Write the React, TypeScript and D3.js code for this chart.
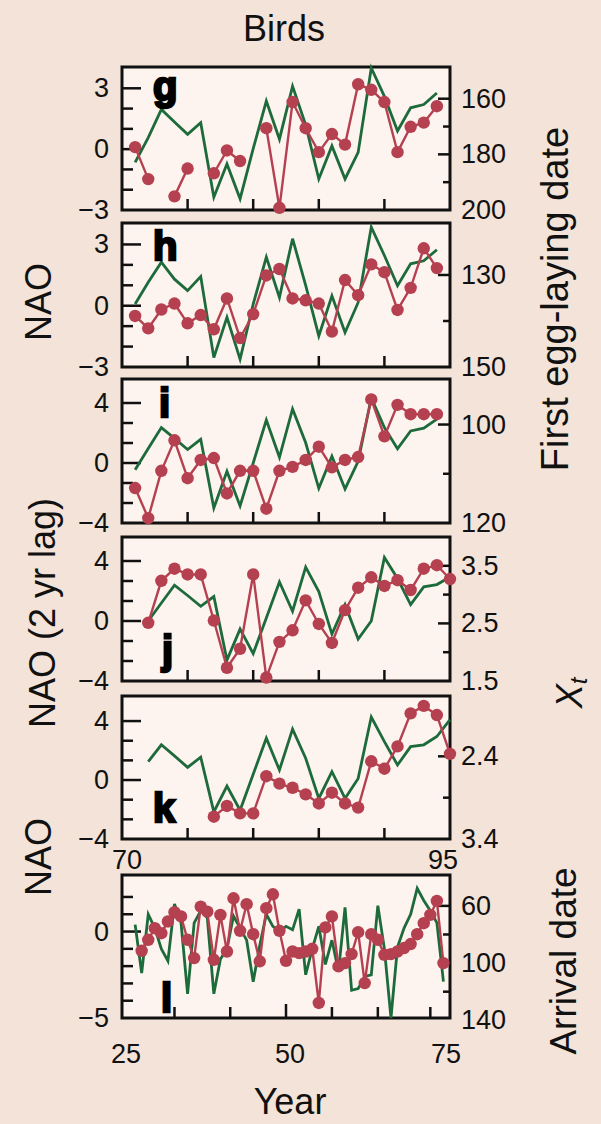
import React from "react";
import * as d3 from "d3";

const W = 601;
const H = 1124;
const X0 = 122;
const X1 = 450;
const FONT = "'Liberation Sans', Arial, Helvetica, sans-serif";
const BG = "#f3e3d8";
const PANEL_BG = "#fdf3ef";
const GREEN = "#1d6a3b";
const RED = "#b5404f";

// ---- data ----
// g: first egg-laying date vs winter NAO
const naoG = [-0.65, 0.57, 1.96, 1.34, 0.73, 1.3, -2.37, -0.73, -2.45, 0.03, 2.37, 0.49, 3.1, 1.2, -1.47, 0.16, -1.47, -0.16, 4.0, 2.6, 0.9, 2.04, 2.2, 2.77];
const eggG = [177.4, 188.9, null, 195.1, 185.1, null, 186.8, 178.6, 182.4, null, 170.6, 199.2, 161.2, 170.6, 179.2, 172.7, 176.5, 154.8, 156.8, 161.2, 179.2, 170.1, 168.6, 162.7];
// h
const naoH = [0.08, 1.15, 2.13, 1.3, 0.74, 1.43, -2.54, -0.57, -2.62, 0.08, 2.38, 0.41, 3.28, 1.0, -1.48, 0.49, -1.31, 0.16, 3.85, 2.46, 0.98, 2.05, 2.2, 2.74];
const eggH = [138.9, 141.6, 137.5, 136.2, 140.5, 138.7, 141.8, 135.1, 143.7, 138.5, 130.1, 128.7, 135.1, 135.5, 136.2, 142.3, 131.1, 134.4, 127.7, 129.4, 137.6, 132.8, 124.2, 128.5];
// i
const naoI = [-0.45, 0.97, 2.36, 1.64, 0.9, 1.58, -3.0, -0.56, -2.86, 0.0, 2.86, 0.38, 3.6, 1.35, -1.69, 0.45, -1.73, 0.11, 4.35, 2.36, 0.95, 2.14, 2.32, 2.93];
const eggI = [112.9, 119.0, 109.4, 103.2, 110.9, 107.2, 106.8, 114.0, 109.4, 109.4, 117.1, 109.4, 108.6, 107.2, 104.5, 108.7, 107.2, 106.6, 94.9, 102.4, 96.0, 97.9, 97.9, 97.9];
// j: X_t vs NAO (2 yr lag)
const naoJ = [0.0, 1.2, 2.39, 1.7, 0.98, 1.63, -2.6, -0.54, -2.17, 0.2, 2.6, 0.65, 3.59, 1.96, -0.87, 1.09, -1.2, 0.0, 4.24, 2.83, 1.09, 2.28, 2.43, 2.93];
const xtJ = [2.51, 3.24, 3.45, 3.35, 3.35, 2.55, 1.73, 2.06, 3.35, 1.56, 2.18, 2.38, 2.9, 2.49, 2.16, 2.73, 3.12, 3.3, 3.15, 3.25, 3.08, 3.45, 3.51, 3.27];
// k
const naoK = [1.25, 2.39, 1.64, 0.86, 1.55, -2.16, -0.41, -2.05, 0.39, 2.84, 0.68, 3.45, 1.48, -1.25, 0.57, -1.25, 0.11, 4.27, 2.6, 1.02, 2.27, 2.39, 2.95, 4.09];
const xtK = [3.13, 3.0, 3.09, 3.09, 2.64, 2.73, 2.78, 2.86, 2.97, 2.84, 2.97, 3.02, 2.46, 2.55, 2.28, 1.88, 1.79, 1.9, 2.37];
// l: arrival date vs NAO, 1927-1974
const naoL = [0.4, -2.4, 1.0, 0.2, -1.0, -1.7, 1.6, 0.5, -3.6, 0.5, 1.2, 0.8, -3.6, -1.6, -1.0, 0.9, 0.2, -0.5, -2.9, -0.8, 1.0, 0.3, 0.0, 0.3, 0.1, 1.3, -2.5, -1.0, 0.3, -1.9, -0.5, -2.3, 1.4, -3.4, -3.3, -2.6, -2.5, 1.5, -1.0, -5.0, -0.9, 0.2, 1.0, 2.5, 1.8, 1.2, 0.5, -2.9];
const arrL = [91.4, 83.7, 75.6, 79.1, 70.9, 64.4, 67.4, 83.7, 96.5, 60.5, 64.0, 97.7, 66.3, 91.9, 54.7, 77.4, 58.8, 79.8, 98.8, 61.6, 51.9, 77.4, 98.4, 91.9, 93.0, 91.9, 90.0, 127.9, 75.1, 67.4, 102.3, 100, 93.7, 78.4, 114.0, 79.8, 83.7, 94.2, 93.7, 91.9, 89.5, 86.7, 79.8, 72.1, 66.3, 56.5, 100];

const yearTicks = [75, 80, 85, 90];
const yearTicksL = [33, 41.5, 50, 57, 64, 72];

const xNao = d3.scaleLinear().domain([70, 95]).range([X0, X1]);
const xL = d3.scaleLinear().domain([25, 75]).range([X0, X1]);

const seq = (start, n) => d3.range(start, start + n);

const thirds = [-8 / 3, -4 / 3, 0, 4 / 3, 8 / 3, 4];

const panels = [
  {
    id: "g", top: 67, bottom: 210, x: xNao, xTicks: yearTicks,
    left: [-3, 4.05], lTicks: [-2, -1, 0, 1, 2, 3], lMajor: [0, 3], lLabels: [3, 0, -3],
    right: [200, 148.6], rTicks: [160, 170, 180, 190], rMajor: [160, 180], rLabels: [160, 180, 200],
    green: { yrs: seq(71, naoG.length), v: naoG },
    red: { yrs: seq(71, eggG.length), v: eggG },
    letter: "g", lx: 153, ly: 100,
  },
  {
    id: "h", top: 223, bottom: 367, x: xNao, xTicks: yearTicks,
    left: [-3, 4.05], lTicks: [-2, -1, 0, 1, 2, 3], lMajor: [0, 3], lLabels: [3, 0, -3],
    right: [150, 118.7], rTicks: [130, 140], rMajor: [130], rLabels: [130, 150],
    green: { yrs: seq(71, naoH.length), v: naoH },
    red: { yrs: seq(71, eggH.length), v: eggH },
    letter: "h", lx: 153, ly: 260,
  },
  {
    id: "i", top: 379, bottom: 523, x: xNao, xTicks: yearTicks,
    left: [-4, 5.6], lTicks: thirds, lMajor: [0, 4], lLabels: [4, 0, -4],
    right: [120, 90.75], rTicks: [100, 110], rMajor: [100], rLabels: [100, 120],
    green: { yrs: seq(71, naoI.length), v: naoI },
    red: { yrs: seq(71, eggI.length), v: eggI },
    letter: "i", lx: 159, ly: 417,
  },
  {
    id: "j", top: 537, bottom: 681, x: xNao, xTicks: yearTicks,
    left: [-4, 5.6], lTicks: thirds, lMajor: [0, 4], lLabels: [4, 0, -4],
    right: [1.5, 4.0], rTicks: [2.0, 2.5, 3.0, 3.5], rMajor: [2.5, 3.5], rLabels: [3.5, 2.5, 1.5],
    green: { yrs: seq(72, naoJ.length), v: naoJ },
    red: { yrs: seq(72, xtJ.length), v: xtJ },
    letter: "j", lx: 162, ly: 664,
  },
  {
    id: "k", top: 696, bottom: 839, x: xNao, xTicks: yearTicks,
    left: [-4, 5.7], lTicks: thirds, lMajor: [0, 4], lLabels: [4, 0, -4],
    right: [3.4, 1.67], rTicks: [2.4, 2.9], rMajor: [2.4], rLabels: [2.4, 3.4],
    green: { yrs: seq(72, naoK.length), v: naoK },
    red: { yrs: seq(77, xtK.length), v: xtK },
    letter: "k", lx: 153, ly: 822,
  },
  {
    id: "l", top: 875, bottom: 1018, x: xL, xTicks: yearTicksL,
    left: [-5, 3.27], lTicks: [-4, -3, -2, -1, 0, 1, 2], lMajor: [0], lLabels: [0, -5],
    right: [138.4, 38.4], rTicks: [60, 80, 100, 120], rMajor: [60, 100], rLabels: [60, 100, 140],
    green: { yrs: seq(27, naoL.length), v: naoL },
    red: { yrs: seq(28, arrL.length), v: arrL },
    letter: "l", lx: 161, ly: 1012,
  },
];

const fmt = (v) => (v < 0 ? "\u2212" + Math.abs(v) : String(v));

function Panel({ p }) {
  const yl = d3.scaleLinear().domain(p.left).range([p.bottom, p.top]);
  const yr = d3.scaleLinear().domain(p.right).range([p.bottom, p.top]);
  const greenPts = p.green.yrs.map((yr0, i) => [p.x(yr0), yl(p.green.v[i])]);
  const redPts = p.red.yrs.map((yr0, i) => ({ x: p.x(yr0), v: p.red.v[i] }));
  const lineG = d3.line()(greenPts);
  const lineR = d3
    .line()
    .defined((d) => d.v != null)
    .x((d) => d.x)
    .y((d) => yr(d.v))(redPts);

  return (
    <g>
      <rect x={X0} y={p.top} width={X1 - X0} height={p.bottom - p.top} fill={PANEL_BG} />
      {/* left ticks */}
      {p.lTicks.map((t) => (
        <line key={"l" + t} x1={X0} x2={X0 + (p.lMajor.includes(t) ? 19 : 11)} y1={yl(t)} y2={yl(t)} stroke="#111" strokeWidth={2.5} />
      ))}
      {/* right ticks */}
      {p.rTicks.map((t) => (
        <line key={"r" + t} x1={X1} x2={X1 - (p.rMajor.includes(t) ? 12 : 7)} y1={yr(t)} y2={yr(t)} stroke="#111" strokeWidth={2.5} />
      ))}
      {/* bottom ticks */}
      {p.xTicks.map((t) => (
        <line key={"b" + t} x1={p.x(t)} x2={p.x(t)} y1={p.bottom} y2={p.bottom - (t === 50 ? 14 : 11)} stroke="#111" strokeWidth={2.5} />
      ))}
      <rect x={X0} y={p.top} width={X1 - X0} height={p.bottom - p.top} fill="none" stroke="#111" strokeWidth={3} />
      <path d={lineG} fill="none" stroke={GREEN} strokeWidth={2.8} />
      <path d={lineR} fill="none" stroke={RED} strokeWidth={2.4} />
      {redPts
        .filter((d) => d.v != null)
        .map((d, i) => (
          <circle key={i} cx={d.x} cy={yr(d.v)} r={6.2} fill={RED} />
        ))}
      {/* tick labels */}
      {p.lLabels.map((t) => (
        <text key={"ll" + t} x={109} y={yl(t)} textAnchor="end" dominantBaseline="central" fontSize={27} fontFamily={FONT} fill="#111">
          {fmt(t)}
        </text>
      ))}
      {p.rLabels.map((t) => (
        <text key={"rl" + t} x={461} y={yr(t)} textAnchor="start" dominantBaseline="central" fontSize={27} fontFamily={FONT} fill="#111">
          {fmt(t)}
        </text>
      ))}
      <text x={p.lx} y={p.ly} fontSize={40} fontWeight="bold" fontFamily={FONT} fill="#000" stroke="#000" strokeWidth={2.5}>
        {p.letter}
      </text>
    </g>
  );
}

export default function App() {
  return (
    <svg width={W} height={H} viewBox={`0 0 ${W} ${H}`} style={{ display: "block" }}>
      <style>{`body{margin:0}`}</style>
      <rect width={W} height={H} fill={BG} />
      <text x={284} y={28} textAnchor="middle" dominantBaseline="central" fontSize={36} fontFamily={FONT} fill="#111">
        Birds
      </text>
      {panels.map((p) => (
        <Panel key={p.id} p={p} />
      ))}
      {/* year labels under k */}
      <text x={xNao(70) + 5} y={860} textAnchor="middle" dominantBaseline="central" fontSize={27} fontFamily={FONT} fill="#111">70</text>
      <text x={xNao(95) - 7} y={860} textAnchor="middle" dominantBaseline="central" fontSize={27} fontFamily={FONT} fill="#111">95</text>
      {/* year labels under l */}
      {[25, 50, 75].map((t) => (
        <text key={t} x={xL(t) + (t === 25 ? 4 : t === 75 ? -4 : 4)} y={1054} textAnchor="middle" dominantBaseline="central" fontSize={27} fontFamily={FONT} fill="#111">
          {t}
        </text>
      ))}
      <text x={290} y={1101} textAnchor="middle" dominantBaseline="central" fontSize={36} fontFamily={FONT} fill="#111">Year</text>
      {/* left axis titles */}
      <text transform="translate(38,302) rotate(-90)" textAnchor="middle" dominantBaseline="central" fontSize={36} fontFamily={FONT} fill="#111">NAO</text>
      <text transform="translate(42,613) rotate(-90)" textAnchor="middle" dominantBaseline="central" fontSize={36} fontFamily={FONT} fill="#111">NAO (2 yr lag)</text>
      <text transform="translate(38,857) rotate(-90)" textAnchor="middle" dominantBaseline="central" fontSize={36} fontFamily={FONT} fill="#111">NAO</text>
      {/* right axis titles */}
      <text transform="translate(555,299) rotate(-90)" textAnchor="middle" dominantBaseline="central" fontSize={38} fontFamily={FONT} fill="#111">First egg-laying date</text>
      <text transform="translate(569,693) rotate(-90)" textAnchor="middle" dominantBaseline="central" fontSize={36} fontFamily={FONT} fill="#111">
        <tspan fontStyle="italic">X</tspan>
        <tspan fontStyle="italic" fontSize={24} dy={9}>t</tspan>
      </text>
      <text transform="translate(563,961) rotate(-90)" textAnchor="middle" dominantBaseline="central" fontSize={37} fontFamily={FONT} fill="#111">Arrival date</text>
    </svg>
  );
}
